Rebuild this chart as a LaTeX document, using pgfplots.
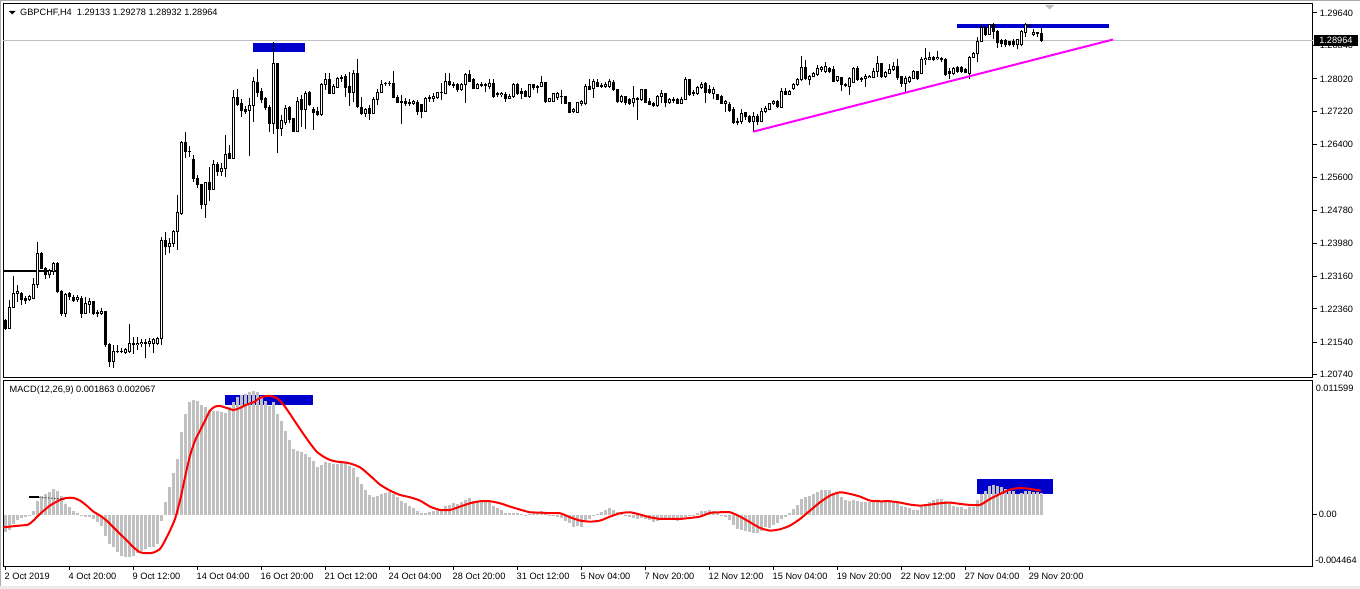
\documentclass[border=0pt]{standalone}
\usepackage{pgfplots}
\pgfplotsset{compat=1.18}
\usepackage{pgfplotstable}
\usepackage{fontspec}
\setmainfont{Liberation Sans}
\definecolor{mtblue}{RGB}{0,0,205}
\definecolor{mtsilver}{RGB}{192,192,192}
\definecolor{mtmag}{RGB}{255,0,255}
\definecolor{mtred}{RGB}{255,0,0}
\definecolor{mtframe}{RGB}{170,170,170}
\definecolor{mttri}{RGB}{190,190,190}
\newcommand{\mt}{\fontsize{9.2bp}{11bp}\selectfont}

\pgfplotstableread{
i o h l c
0 1.22071 1.22113 1.21842 1.21874
1 1.21884 1.22580 1.21874 1.22400
2 1.22400 1.23170 1.22376 1.22745
3 1.22728 1.22949 1.22538 1.22784
4 1.22728 1.22784 1.22457 1.22580
5 1.22622 1.22678 1.22482 1.22563
6 1.22580 1.22703 1.22563 1.22661
7 1.22622 1.23129 1.22597 1.22949
8 1.22949 1.23999 1.22868 1.23729
9 1.23729 1.23761 1.23335 1.23360
10 1.23360 1.23399 1.23089 1.23195
11 1.23195 1.23335 1.23114 1.23301
12 1.23276 1.23507 1.23195 1.23483
13 1.23483 1.23507 1.22745 1.22784
14 1.22801 1.22826 1.22186 1.22253
15 1.22253 1.22745 1.22154 1.22703
16 1.22728 1.22784 1.22580 1.22661
17 1.22646 1.22703 1.22538 1.22563
18 1.22580 1.22703 1.22538 1.22646
19 1.22622 1.22678 1.22130 1.22253
20 1.22253 1.22646 1.22236 1.22482
21 1.22457 1.22622 1.22253 1.22538
22 1.22538 1.22555 1.22211 1.22253
23 1.22268 1.22334 1.22154 1.22236
24 1.22253 1.22376 1.22211 1.22292
25 1.22292 1.22309 1.21431 1.21473
26 1.21473 1.21515 1.20939 1.21062
27 1.21062 1.21473 1.20900 1.21325
28 1.21325 1.21473 1.21269 1.21301
29 1.21301 1.21392 1.21269 1.21318
30 1.21284 1.21392 1.21252 1.21350
31 1.21308 1.21990 1.21284 1.21515
32 1.21515 1.21677 1.21252 1.21480
33 1.21480 1.21677 1.21350 1.21515
34 1.21498 1.21613 1.21416 1.21539
35 1.21539 1.21613 1.21146 1.21515
36 1.21515 1.21638 1.21431 1.21554
37 1.21515 1.21638 1.21269 1.21596
38 1.21515 1.21677 1.21473 1.21638
39 1.21621 1.24122 1.21473 1.24039
40 1.24039 1.24260 1.23687 1.23891
41 1.23891 1.24098 1.23744 1.23975
42 1.23975 1.24302 1.23891 1.24260
43 1.24253 1.25163 1.23810 1.24737
44 1.24713 1.26491 1.24671 1.26459
45 1.26459 1.26705 1.26081 1.26228
46 1.26238 1.26368 1.26105 1.26221
47 1.26024 1.26147 1.25490 1.25574
48 1.25574 1.25655 1.25328 1.25409
49 1.25409 1.25434 1.24819 1.24917
50 1.24917 1.25490 1.24605 1.25475
51 1.25475 1.25859 1.25023 1.25303
52 1.25303 1.26024 1.25286 1.25901
53 1.25901 1.25982 1.25638 1.25736
54 1.25736 1.25943 1.25638 1.25820
55 1.25820 1.26639 1.25613 1.26164
56 1.26172 1.26393 1.26056 1.26066
57 1.26066 1.27746 1.26056 1.27566
58 1.27566 1.27771 1.27352 1.27377
59 1.27419 1.27525 1.27089 1.27237
60 1.27254 1.27352 1.27156 1.27212
61 1.27237 1.27542 1.26130 1.27360
62 1.27360 1.28073 1.26951 1.27967
63 1.27935 1.28255 1.27581 1.27680
64 1.27704 1.27788 1.27419 1.27500
65 1.27525 1.27581 1.27254 1.27320
66 1.27320 1.27377 1.26705 1.26927
67 1.26927 1.28919 1.26664 1.28386
68 1.28386 1.28403 1.26189 1.26787
69 1.26787 1.27131 1.26622 1.26991
70 1.26951 1.27377 1.26885 1.27296
71 1.27320 1.27352 1.26927 1.27008
72 1.27033 1.27050 1.26713 1.26720
73 1.26720 1.27581 1.26713 1.27475
74 1.27500 1.27623 1.26843 1.27254
75 1.27254 1.27721 1.26787 1.27665
76 1.27689 1.27721 1.27352 1.27377
77 1.27254 1.27335 1.26762 1.27188
78 1.27212 1.27320 1.27106 1.27148
79 1.27131 1.27911 1.27114 1.27886
80 1.27886 1.28157 1.27746 1.27992
81 1.27992 1.28164 1.27648 1.27665
82 1.27665 1.27886 1.27640 1.27827
83 1.27803 1.28073 1.27788 1.28034
84 1.28034 1.28115 1.27950 1.28049
85 1.28073 1.28140 1.27581 1.27803
86 1.27827 1.28196 1.27352 1.27680
87 1.27680 1.28238 1.27458 1.28157
88 1.28157 1.28501 1.27296 1.27335
89 1.27320 1.27581 1.27131 1.27173
90 1.27173 1.27311 1.27089 1.27271
91 1.27279 1.27377 1.27008 1.27173
92 1.27173 1.27581 1.27156 1.27517
93 1.27517 1.27763 1.27377 1.27689
94 1.27689 1.27992 1.27665 1.27886
95 1.27901 1.27950 1.27844 1.27911
96 1.27911 1.27967 1.27844 1.27901
97 1.27911 1.28213 1.27542 1.27557
98 1.27566 1.27623 1.27419 1.27443
99 1.27475 1.27623 1.26902 1.27434
100 1.27458 1.27542 1.27360 1.27419
101 1.27443 1.27517 1.27352 1.27419
102 1.27419 1.27500 1.27377 1.27458
103 1.27443 1.27500 1.27131 1.27229
104 1.27377 1.27402 1.27050 1.27229
105 1.27229 1.27581 1.27212 1.27542
106 1.27542 1.27623 1.27458 1.27557
107 1.27542 1.27665 1.27458 1.27581
108 1.27557 1.27704 1.27517 1.27680
109 1.27680 1.27926 1.27500 1.27689
110 1.27665 1.28172 1.27640 1.27967
111 1.27967 1.28172 1.27844 1.27869
112 1.27886 1.27950 1.27803 1.27862
113 1.27886 1.27911 1.27704 1.27746
114 1.27746 1.27911 1.27721 1.27886
115 1.27886 1.28172 1.27434 1.28132
116 1.28132 1.28238 1.27935 1.27967
117 1.27992 1.28034 1.27763 1.27788
118 1.27788 1.27926 1.27763 1.27869
119 1.27869 1.27935 1.27812 1.27852
120 1.27852 1.27911 1.27704 1.27869
121 1.27827 1.28009 1.27763 1.27894
122 1.27911 1.28009 1.27557 1.27581
123 1.27665 1.27704 1.27581 1.27623
124 1.27623 1.27704 1.27566 1.27665
125 1.27640 1.27704 1.27458 1.27542
126 1.27542 1.27640 1.27517 1.27598
127 1.27581 1.27911 1.27557 1.27869
128 1.27869 1.27911 1.27623 1.27665
129 1.27704 1.27788 1.27517 1.27665
130 1.27704 1.27746 1.27566 1.27581
131 1.27581 1.27886 1.27557 1.27869
132 1.27869 1.27886 1.27746 1.27812
133 1.27827 1.27869 1.27665 1.27803
134 1.27827 1.28090 1.27812 1.27935
135 1.27935 1.27950 1.27419 1.27458
136 1.27458 1.27557 1.27443 1.27542
137 1.27458 1.27680 1.27443 1.27665
138 1.27557 1.27697 1.27500 1.27665
139 1.27581 1.27746 1.27394 1.27574
140 1.27581 1.27598 1.27394 1.27419
141 1.27434 1.27458 1.27173 1.27188
142 1.27205 1.27296 1.27173 1.27254
143 1.27188 1.27458 1.27173 1.27434
144 1.27402 1.27500 1.27352 1.27458
145 1.27402 1.27886 1.27377 1.27844
146 1.27844 1.28009 1.27746 1.27763
147 1.27788 1.28009 1.27542 1.27950
148 1.27935 1.28009 1.27812 1.27827
149 1.27862 1.27911 1.27788 1.27827
150 1.27827 1.27950 1.27803 1.27886
151 1.27827 1.28009 1.27803 1.27950
152 1.27935 1.27992 1.27721 1.27746
153 1.27746 1.27763 1.27419 1.27475
154 1.27475 1.27623 1.27434 1.27581
155 1.27581 1.27598 1.27377 1.27434
156 1.27500 1.27542 1.27377 1.27419
157 1.27434 1.27844 1.27335 1.27525
158 1.27542 1.27566 1.27008 1.27500
159 1.27500 1.27771 1.27483 1.27746
160 1.27746 1.27763 1.27419 1.27443
161 1.27475 1.27542 1.27377 1.27394
162 1.27419 1.27458 1.27335 1.27360
163 1.27360 1.27623 1.27335 1.27598
164 1.27581 1.27746 1.27419 1.27648
165 1.27648 1.27680 1.27320 1.27434
166 1.27434 1.27557 1.27402 1.27517
167 1.27517 1.27581 1.27434 1.27483
168 1.27517 1.27557 1.27394 1.27419
169 1.27419 1.27581 1.27394 1.27517
170 1.27517 1.28073 1.27500 1.27992
171 1.27992 1.28009 1.27606 1.27623
172 1.27680 1.27746 1.27606 1.27648
173 1.27648 1.27844 1.27623 1.27812
174 1.27803 1.27950 1.27763 1.27886
175 1.27911 1.27935 1.27419 1.27680
176 1.27746 1.27869 1.27648 1.27680
177 1.27665 1.27827 1.27517 1.27763
178 1.27623 1.27640 1.27500 1.27517
179 1.27598 1.27623 1.27394 1.27419
180 1.27419 1.27500 1.27212 1.27475
181 1.27377 1.27458 1.27212 1.27237
182 1.27254 1.27335 1.26910 1.26942
183 1.26983 1.27050 1.26885 1.26942
184 1.26966 1.27271 1.26910 1.27173
185 1.27188 1.27212 1.27008 1.27089
186 1.27106 1.27131 1.26942 1.26983
187 1.26983 1.27212 1.26720 1.27106
188 1.27106 1.27148 1.26885 1.26983
189 1.26983 1.27311 1.26966 1.27229
190 1.27212 1.27352 1.27173 1.27296
191 1.27271 1.27434 1.27254 1.27419
192 1.27402 1.27500 1.27377 1.27458
193 1.27458 1.27500 1.27296 1.27335
194 1.27311 1.27788 1.27296 1.27721
195 1.27721 1.27788 1.27623 1.27640
196 1.27640 1.27746 1.27623 1.27704
197 1.27771 1.27911 1.27746 1.27886
198 1.27869 1.28034 1.27844 1.28009
199 1.27992 1.28582 1.27975 1.28304
200 1.28304 1.28484 1.27992 1.28017
201 1.27992 1.28115 1.27869 1.28090
202 1.28073 1.28196 1.28058 1.28140
203 1.28115 1.28361 1.28090 1.28280
204 1.28238 1.28336 1.28196 1.28304
205 1.28213 1.28442 1.28172 1.28319
206 1.28280 1.28319 1.28157 1.28196
207 1.28255 1.28344 1.27950 1.27967
208 1.27975 1.28090 1.27950 1.28073
209 1.28049 1.28073 1.27721 1.27869
210 1.27886 1.27911 1.27812 1.27852
211 1.27844 1.28073 1.27623 1.28034
212 1.27926 1.28319 1.27911 1.28263
213 1.28263 1.28344 1.27967 1.27992
214 1.28034 1.28073 1.27950 1.27992
215 1.28034 1.28132 1.27827 1.28073
216 1.28049 1.28115 1.28034 1.28090
217 1.28058 1.28280 1.28034 1.28213
218 1.28196 1.28582 1.28073 1.28386
219 1.28386 1.28418 1.28049 1.28073
220 1.28073 1.28213 1.28049 1.28172
221 1.28157 1.28378 1.28140 1.28255
222 1.28238 1.28442 1.28221 1.28336
223 1.28336 1.28501 1.27992 1.28058
224 1.28073 1.28090 1.27812 1.27911
225 1.27911 1.28090 1.27704 1.28034
226 1.27967 1.28090 1.27911 1.28049
227 1.28034 1.28238 1.28009 1.28196
228 1.28196 1.28221 1.27992 1.28017
229 1.28157 1.28565 1.28140 1.28501
230 1.28484 1.28772 1.28361 1.28526
231 1.28501 1.28688 1.28484 1.28550
232 1.28550 1.28582 1.28467 1.28501
233 1.28509 1.28705 1.28484 1.28550
234 1.28526 1.28565 1.28442 1.28484
235 1.28501 1.28526 1.28090 1.28115
236 1.28196 1.28280 1.28017 1.28140
237 1.28157 1.28319 1.28115 1.28280
238 1.28295 1.28336 1.28172 1.28196
239 1.28295 1.28336 1.28172 1.28196
240 1.28255 1.28280 1.28157 1.28172
241 1.28157 1.28582 1.28009 1.28550
242 1.28550 1.28688 1.28526 1.28632
243 1.28632 1.29042 1.28442 1.28951
244 1.28951 1.29345 1.28934 1.29288
245 1.29288 1.29320 1.29074 1.29099
246 1.29116 1.29370 1.29099 1.29345
247 1.29345 1.29402 1.28993 1.29180
248 1.29180 1.29222 1.28772 1.28910
249 1.28959 1.28993 1.28811 1.28895
250 1.28959 1.28993 1.28811 1.28870
251 1.28934 1.28959 1.28828 1.28870
252 1.28951 1.28993 1.28811 1.28870
253 1.28853 1.28993 1.28747 1.28976
254 1.28853 1.29222 1.28828 1.29180
255 1.29165 1.29387 1.29057 1.29345
256 1.29328 1.29370 1.29303 1.29338
257 1.29116 1.29239 1.29074 1.29156
258 1.29156 1.29165 1.29057 1.29124
259 1.29133 1.29278 1.28932 1.28964
}\candles

\pgfplotstableread{
i m
0 -0.001533
1 -0.001331
2 -0.000810
3 -0.000463
4 -0.000289
5 -0.000174
6 -0.000058
7 0.000347
8 0.001215
9 0.001649
10 0.001794
11 0.001938
12 0.002228
13 0.002083
14 0.001649
15 0.000926
16 0.000636
17 0.000347
18 0.000116
19 -0.000029
20 -0.000174
21 -0.000231
22 -0.000376
23 -0.000665
24 -0.000955
25 -0.001823
26 -0.002546
27 -0.002835
28 -0.003269
29 -0.003558
30 -0.003703
31 -0.003645
32 -0.003558
33 -0.003356
34 -0.003124
35 -0.002980
36 -0.002835
37 -0.002777
38 -0.002546
39 -0.000521
40 0.001070
41 0.002430
42 0.003587
43 0.004831
44 0.007146
45 0.008737
46 0.009749
47 0.009952
48 0.009894
49 0.009547
50 0.009315
51 0.009084
52 0.009026
53 0.008968
54 0.008882
55 0.008795
56 0.009315
57 0.009749
58 0.010183
59 0.010415
60 0.010473
61 0.010617
62 0.010762
63 0.010617
64 0.010328
65 0.009894
66 0.009460
67 0.009749
68 0.008737
69 0.008158
70 0.007290
71 0.006480
72 0.005699
73 0.005555
74 0.005410
75 0.005265
76 0.004976
77 0.004687
78 0.004166
79 0.004340
80 0.004542
81 0.004455
82 0.004397
83 0.004397
84 0.004455
85 0.004455
86 0.004253
87 0.004021
88 0.003298
89 0.002662
90 0.002141
91 0.001736
92 0.001562
93 0.001649
94 0.001794
95 0.001909
96 0.001996
97 0.001794
98 0.001504
99 0.001215
100 0.000984
101 0.000781
102 0.000579
103 0.000347
104 0.000145
105 0.000174
106 0.000260
107 0.000289
108 0.000405
109 0.000492
110 0.000781
111 0.000868
112 0.001013
113 0.000926
114 0.001070
115 0.001302
116 0.001418
117 0.001215
118 0.001157
119 0.001157
120 0.001157
121 0.001070
122 0.000723
123 0.000579
124 0.000405
125 0.000174
126 0.000116
127 0.000174
128 0.000145
129 0.000087
130 -0.000058
131 0.000058
132 0.000116
133 0.000116
134 0.000318
135 0.000145
136 -0.000116
137 -0.000087
138 -0.000231
139 -0.000318
140 -0.000521
141 -0.000752
142 -0.001041
143 -0.001013
144 -0.001041
145 -0.000463
146 -0.000376
147 -0.000145
148 0.000058
149 0.000231
150 0.000376
151 0.000550
152 0.000405
153 0.000203
154 0.000087
155 -0.000058
156 -0.000231
157 -0.000318
158 -0.000376
159 -0.000289
160 -0.000376
161 -0.000463
162 -0.000665
163 -0.000521
164 -0.000376
165 -0.000318
166 -0.000318
167 -0.000318
168 -0.000521
169 -0.000376
170 -0.000174
171 -0.000087
172 -0.000029
173 0.000116
174 0.000347
175 0.000347
176 0.000434
177 0.000347
178 0.000116
179 -0.000029
180 -0.000174
181 -0.000463
182 -0.000868
183 -0.001244
184 -0.001331
185 -0.001447
186 -0.001533
187 -0.001620
188 -0.001591
189 -0.001447
190 -0.001099
191 -0.001157
192 -0.000868
193 -0.000752
194 -0.000376
195 -0.000174
196 0.000145
197 0.000492
198 0.000868
199 0.001360
200 0.001562
201 0.001649
202 0.001794
203 0.001996
204 0.002170
205 0.002170
206 0.002170
207 0.001880
208 0.001794
209 0.001562
210 0.001302
211 0.001157
212 0.001273
213 0.001215
214 0.001128
215 0.001070
216 0.001070
217 0.001070
218 0.001070
219 0.001070
220 0.001070
221 0.001070
222 0.001070
223 0.000984
224 0.000781
225 0.000636
226 0.000550
227 0.000434
228 0.000434
229 0.000752
230 0.000926
231 0.001128
232 0.001302
233 0.001360
234 0.001360
235 0.001157
236 0.000984
237 0.000781
238 0.000694
239 0.000636
240 0.000463
241 0.000694
242 0.000694
243 0.001302
244 0.001794
245 0.002083
246 0.002517
247 0.002604
248 0.002517
249 0.002430
250 0.002228
251 0.002025
252 0.002025
253 0.001794
254 0.001909
255 0.002083
256 0.002083
257 0.001996
258 0.001996
259 0.001863
}\macd

\begin{document}
\begin{tikzpicture}
\useasboundingbox (0,0) rectangle (1360bp,589bp);
\fill[white] (0,0) rectangle (1360bp,589bp);
\fill[mtframe] (0,587.8bp) rectangle (1360bp,589bp);
\fill[mtframe] (0,0) rectangle (1.2bp,589bp);
\fill[black!8] (0,0) rectangle (1360bp,2.5bp);

% ---------------- price panel ----------------
\begin{axis}[at={(3bp,211bp)}, anchor=south west, scale only axis,
  width=1309.5bp, height=374bp,
  xmin=-0.5, xmax=326.875, ymin=1.206612, ymax=1.298616,
  ticks=none, clip=false,
  axis line style={black, line width=1bp}]
  % background objects
  \addplot[fill=mtblue, draw=none] coordinates {(62,1.28910) (75,1.28910) (75,1.28688) (62,1.28688)} --cycle;
  \addplot[fill=mtblue, draw=none] coordinates {(237.9,1.29370) (276,1.29370) (276,1.29279) (237.9,1.29279)} --cycle;
  \addplot[mtsilver, line width=1bp] coordinates {(-0.5,1.28964) (326.875,1.28964)};
  \addplot[black, line width=2bp] coordinates {(-0.5,1.23298) (12.9,1.23298)};
  % wicks
  \addplot[draw=none, mark=none, error bars/.cd, y dir=plus, y explicit, error mark=none,
    error bar style={draw=black, line width=1bp}]
    table[x=i, y=l, y error plus expr={\thisrow{h}-\thisrow{l}}] {\candles};
  % bodies
  \addplot[draw=none, mark=none, error bars/.cd, y dir=plus, y explicit, error mark=none,
    error bar style={draw=black, line width=3bp}]
    table[x=i, y expr={min(\thisrow{o},\thisrow{c})-0.000123},
      y error plus expr={abs(\thisrow{c}-\thisrow{o})+0.000246}] {\candles};
  % hollow interior of bullish bodies
  \addplot[draw=none, mark=none, error bars/.cd, y dir=plus, y explicit, error mark=none,
    error bar style={draw=white, line width=1bp}]
    table[x=i, y expr={\thisrow{o}+0.000123},
      y error plus expr={ifthenelse(\thisrow{c}>\thisrow{o}+0.000246,\thisrow{c}-\thisrow{o}-0.000246,0)}] {\candles};
  % trend line
  \addplot[mtmag, line width=2bp] coordinates {(187,1.26720) (277,1.28988)};
  % chart shift marker
  \addplot[fill=mttri, draw=none] coordinates {(260,1.29837) (262.25,1.29837) (261.125,1.29726)} --cycle;
  % right price scale
  \pgfplotsinvokeforeach{1.29640,1.28840,1.28020,1.27220,1.26400,1.25600,1.24780,1.23980,1.23160,1.22360,1.21540,1.20740}{
    \draw[black, line width=1bp] (axis cs:326.875,#1) -- ([xshift=4bp]axis cs:326.875,#1);
    \node[anchor=west, inner sep=0pt, font=\mt] at ([xshift=7bp]axis cs:326.875,#1) {#1};
  }
  \node[fill=black, text=white, anchor=west, inner xsep=5bp, inner ysep=2.6bp, font=\mt]
    at ([xshift=1.5bp]axis cs:326.875,1.28964) {1.28964};
\end{axis}

% ---------------- MACD panel ----------------
\begin{axis}[at={(3bp,23bp)}, anchor=south west, scale only axis,
  width=1309.5bp, height=185bp,
  xmin=-0.5, xmax=326.875, ymin=-0.004464, ymax=0.011599,
  ticks=none, clip=false,
  axis line style={black, line width=1bp}]
  \addplot[fill=mtblue, draw=none] coordinates {(55,0.010415) (76.9,0.010415) (76.9,0.009489) (55,0.009489)} --cycle;
  \addplot[fill=mtblue, draw=none] coordinates {(243,0.003124) (261.9,0.003124) (261.9,0.001765) (243,0.001765)} --cycle;
  \addplot[ycomb, mtsilver, line width=3bp] table[x=i, y=m] {\macd};
  \addplot[mtred, line width=2bp, smooth, tension=0.4] coordinates {
    (-0.5,-0.001110) (1.25,-0.001041) (3.75,-0.000955) (5.83,-0.000868) (7.08,-0.000521) (8.75,0.000058)
    (11.25,0.000781) (13.75,0.001273) (15.4,0.001447) (17.1,0.001447) (18.75,0.001215) (20.4,0.000781)
    (22.1,0.000260) (23.75,-0.000087) (25.4,-0.000521) (27.1,-0.001099) (28.75,-0.001678) (30.4,-0.002228)
    (32.1,-0.002835) (33.75,-0.003269) (35.4,-0.003356) (37.1,-0.003298) (38.75,-0.002980) (40,-0.002257)
    (41.25,-0.001389) (42.5,-0.000376) (43.75,0.001215) (45,0.003240) (46.25,0.005121) (47.5,0.006422)
    (48.75,0.007290) (50,0.008158) (51.25,0.009026) (52.5,0.009373) (53.75,0.009431) (55.4,0.009258)
    (57.1,0.009084) (58.75,0.009258) (60.4,0.009547) (62.1,0.009749) (63.75,0.010126) (65,0.010270)
    (66.25,0.010299) (67.9,0.010126) (69.6,0.009547) (71.25,0.008737) (72.9,0.007869) (74.6,0.007001)
    (76.25,0.006191) (77.9,0.005468) (79.6,0.005034) (81.25,0.004745) (82.9,0.004600) (84.6,0.004542)
    (86.25,0.004440) (88.75,0.004108) (91.25,0.003385) (93.75,0.002604) (96.25,0.002083) (98.75,0.001707)
    (101.25,0.001504) (103.75,0.001215) (106.25,0.000694) (108.75,0.000405) (111.25,0.000405) (113.75,0.000694)
    (116.25,0.000984) (118.75,0.001157) (121.25,0.001157) (123.75,0.000984) (126.25,0.000694) (128.75,0.000434)
    (131.25,0.000203) (133.75,0.000174) (136.25,0.000116) (138.75,0.000116) (141.25,-0.000231) (143.75,-0.000521)
    (146.25,-0.000608) (148.75,-0.000521) (151.25,-0.000174) (153.75,0.000116) (156.25,0.000203) (158.75,0.000000)
    (161.25,-0.000231) (163.75,-0.000376) (166.25,-0.000376) (168.75,-0.000376) (171.25,-0.000289) (173.75,-0.000174)
    (176.25,0.000145) (178.75,0.000203) (181.25,0.000203) (183.75,-0.000174) (186.25,-0.000665) (188.75,-0.001157)
    (191.25,-0.001389) (193.75,-0.001273) (196.25,-0.000955) (198.75,-0.000376) (201.25,0.000347) (203.75,0.001070)
    (206.25,0.001649) (208.75,0.001938) (211.25,0.001794) (213.75,0.001562) (216.25,0.001215) (218.75,0.001157)
    (221.25,0.001157) (223.75,0.001041) (226.25,0.000868) (228.75,0.000781) (231.25,0.000868) (233.75,0.000984)
    (236.25,0.001041) (238.75,0.000926) (241.25,0.000839) (243.75,0.000839) (246.25,0.001360) (248.75,0.001794)
    (251.25,0.002170) (253.75,0.002314) (256.25,0.002228) (259,0.002067)};
  \addplot[black, line width=2bp] coordinates {(6.1,0.001504) (8.6,0.001504)};
  \addplot[black, line width=1bp, dash pattern=on 1bp off 2bp] coordinates {(8.6,0.001504) (15,0.001330)};
  % right scale
  \draw[black, line width=1bp] (axis cs:326.875,0) -- ([xshift=4bp]axis cs:326.875,0);
  \node[anchor=west, inner sep=0pt, font=\mt] at ([xshift=6bp]axis cs:326.875,0) {0.00};
  \node[anchor=north west, inner sep=0pt, font=\mt] at ([xshift=3bp, yshift=-3.5bp]axis cs:326.875,0.011599) {0.011599};
  \node[anchor=south west, inner sep=0pt, font=\mt] at ([xshift=2.5bp, yshift=2bp]axis cs:326.875,-0.004464) {-0.004464};
  % time scale
  \pgfplotsinvokeforeach{0,16,...,256}{
    \draw[black, line width=1bp] (axis cs:#1,-0.004464) -- ([yshift=-4bp]axis cs:#1,-0.004464);
  }
  \newcommand{\xl}[2]{%
    \node[anchor=north west, inner sep=0pt, font=\mt] at ([xshift=-0.5bp, yshift=-7bp]axis cs:#1,-0.004464) {#2};}
  \xl{0}{2 Oct 2019}
  \xl{16}{4 Oct 20:00}
  \xl{32}{9 Oct 12:00}
  \xl{48}{14 Oct 04:00}
  \xl{64}{16 Oct 20:00}
  \xl{80}{21 Oct 12:00}
  \xl{96}{24 Oct 04:00}
  \xl{112}{28 Oct 20:00}
  \xl{128}{31 Oct 12:00}
  \xl{144}{5 Nov 04:00}
  \xl{160}{7 Nov 20:00}
  \xl{176}{12 Nov 12:00}
  \xl{192}{15 Nov 04:00}
  \xl{208}{19 Nov 20:00}
  \xl{224}{22 Nov 12:00}
  \xl{240}{27 Nov 04:00}
  \xl{256}{29 Nov 20:00}
\end{axis}

% titles
\fill[black] (9bp,578bp) -- (15.5bp,578bp) -- (12.25bp,574.5bp) -- cycle;
\node[anchor=base west, inner sep=0pt, font=\mt] at (20bp,573bp) {GBPCHF,H4~ 1.29133 1.29278 1.28932 1.28964};
\node[anchor=base west, inner sep=0pt, font=\mt] at (9.5bp,196.3bp) {MACD(12,26,9) 0.001863 0.002067};
\end{tikzpicture}
\end{document}
